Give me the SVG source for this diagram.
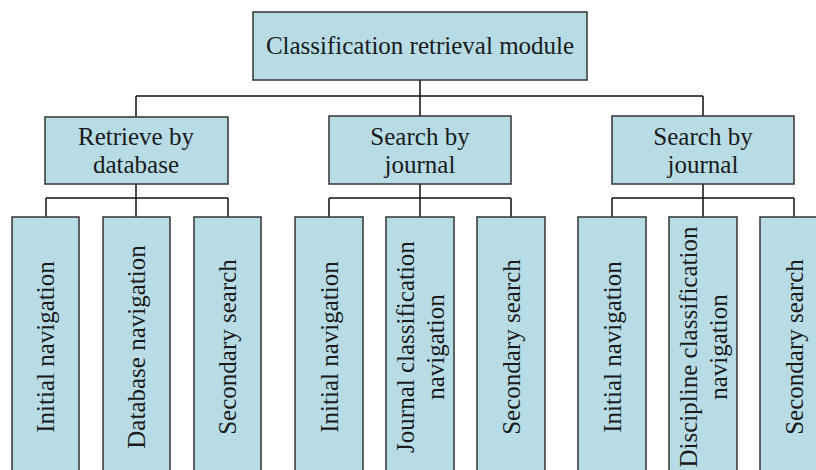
<svg xmlns="http://www.w3.org/2000/svg" width="816" height="470" viewBox="0 0 816 470">
<style>
.box{fill:#b7dce6;stroke:#333;stroke-width:1.5}
.t{font-family:"Liberation Serif","Times New Roman",serif;font-size:25px;fill:#1a1a1a;text-anchor:middle}
.c{fill:none;stroke:#111;stroke-width:1.5}
</style>
<rect width="816" height="470" fill="#fff"/>
<g id="connectors">
<path class="c" d="M420 80V116M136 96H703M136 96V117M703 96V117"/>
<path class="c" d="M136 184V198M46 198H228M46 198V217M136 198V217M228 198V217"/>
<path class="c" d="M420 184V198M329 198H511M329 198V217M420 198V217M511 198V217"/>
<path class="c" d="M703 184V198M612 198H794M612 198V217M703 198V217M794 198V217"/>
</g>
<g id="root"><rect class="box" x="253" y="12" width="334" height="68"/><text class="t" x="420" y="54">Classification retrieval module</text></g>
<g id="db"><rect class="box" x="45" y="117" width="183" height="67"/><text class="t" x="136" y="145">Retrieve by</text><text class="t" x="136" y="173">database</text></g>
<g id="journal1"><rect class="box" x="329" y="116" width="182" height="68"/><text class="t" x="420" y="145">Search by</text><text class="t" x="420" y="173">journal</text></g>
<g id="journal2"><rect class="box" x="612" y="116" width="182" height="68"/><text class="t" x="703" y="145">Search by</text><text class="t" x="703" y="173">journal</text></g>
<g id="a1"><rect class="box" x="12" y="217" width="67" height="262"/><text class="t" transform="translate(45.5,347) rotate(-90)" y="8.5">Initial navigation</text></g>
<g id="a2"><rect class="box" x="103" y="217" width="67" height="262"/><text class="t" transform="translate(136.5,347) rotate(-90)" y="8.5">Database navigation</text></g>
<g id="a3"><rect class="box" x="194" y="217" width="67" height="262"/><text class="t" transform="translate(227.5,347) rotate(-90)" y="8.5">Secondary search</text></g>
<g id="b1"><rect class="box" x="295" y="217" width="68" height="262"/><text class="t" transform="translate(329,347) rotate(-90)" y="8.5">Initial navigation</text></g>
<g id="b2"><rect class="box" x="386" y="217" width="68" height="262"/><text class="t" transform="translate(420,347) rotate(-90)" y="-6">Journal classification</text><text class="t" transform="translate(420,347) rotate(-90)" y="24">navigation</text></g>
<g id="b3"><rect class="box" x="477" y="217" width="68" height="262"/><text class="t" transform="translate(511,347) rotate(-90)" y="8.5">Secondary search</text></g>
<g id="c1"><rect class="box" x="578" y="217" width="68" height="262"/><text class="t" transform="translate(612,347) rotate(-90)" y="8.5">Initial navigation</text></g>
<g id="c2"><rect class="box" x="669" y="217" width="68" height="262"/><text class="t" transform="translate(703,347) rotate(-90)" y="-6">Discipline classification</text><text class="t" transform="translate(703,347) rotate(-90)" y="24">navigation</text></g>
<g id="c3"><rect class="box" x="760" y="217" width="68" height="262"/><text class="t" transform="translate(794,347) rotate(-90)" y="8.5">Secondary search</text></g>
</svg>
